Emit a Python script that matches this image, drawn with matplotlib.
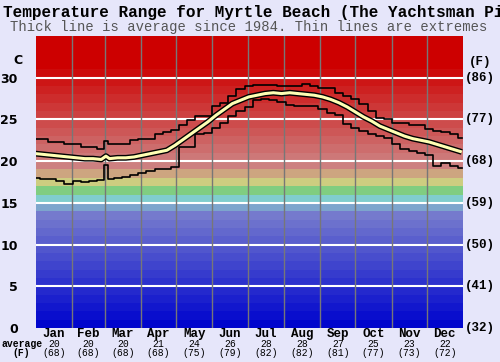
import matplotlib
matplotlib.use("Agg")
import matplotlib.pyplot as plt
import numpy as np

# ---------------- data ----------------
months = ["Jan", "Feb", "Mar", "Apr", "May", "Jun", "Jul", "Aug", "Sep", "Oct", "Nov", "Dec"]
month_days = [31, 28, 31, 30, 31, 30, 31, 31, 30, 31, 30, 31]
avg_c = [20, 20, 20, 21, 24, 26, 28, 28, 27, 25, 23, 22]
avg_f = [68, 68, 68, 68, 75, 79, 82, 82, 81, 77, 73, 72]

days = [0, 7, 14, 21, 28, 35, 42, 49, 56, 60, 63, 70, 77, 84, 91, 98, 105, 112, 119, 126,
        133, 140, 147, 154, 161, 168, 175, 182, 189, 196, 203, 210, 217, 224, 231, 238,
        245, 252, 259, 266, 273, 280, 287, 294, 301, 308, 315, 322, 329, 336, 343, 350,
        357, 364]
avg_line = [20.9, 20.8, 20.7, 20.6, 20.5, 20.4, 20.3, 20.3, 20.2, 20.6, 20.3, 20.4, 20.4,
            20.5, 20.7, 20.9, 21.1, 21.3, 21.9, 22.6, 23.3, 24.0, 24.7, 25.5, 26.2, 26.9,
            27.3, 27.7, 27.9, 28.1, 28.2, 28.1, 28.2, 28.1, 28.0, 27.9, 27.7, 27.4, 27.0,
            26.5, 25.9, 25.3, 24.8, 24.2, 23.8, 23.4, 23.0, 22.7, 22.5, 22.3, 22.0, 21.7,
            21.4, 21.1]
max_line = [22.6, 22.6, 22.3, 22.3, 22.1, 22.1, 21.7, 21.7, 21.5, 22.4, 22.1, 22.1, 22.1,
            22.5, 22.7, 22.7, 23.3, 23.5, 23.7, 24.3, 24.9, 25.4, 25.4, 26.6, 27.0, 27.8,
            28.6, 29.0, 29.1, 29.1, 29.1, 29.0, 29.0, 29.0, 29.2, 29.0, 28.8, 28.8, 28.2,
            27.8, 27.4, 26.9, 26.0, 25.2, 25.0, 24.6, 24.6, 24.3, 24.3, 23.9, 23.6, 23.5,
            23.3, 22.8]
min_line = [18.0, 17.8, 17.8, 17.6, 17.3, 17.6, 17.5, 17.6, 17.7, 19.5, 17.9, 18.0, 18.1,
            18.3, 18.6, 18.8, 19.0, 19.0, 19.3, 21.7, 21.7, 23.2, 23.4, 24.0, 24.6, 25.4,
            26.0, 26.5, 27.3, 27.5, 27.3, 27.1, 26.7, 26.6, 26.6, 26.6, 26.3, 25.8, 25.5,
            24.5, 24.0, 23.6, 23.3, 23.0, 22.8, 22.0, 21.5, 21.2, 21.0, 20.7, 19.4, 19.8,
            19.4, 19.2]
left_ticks = [0, 5, 10, 15, 20, 25, 30]
right_labels = ["(32)", "(41)", "(50)", "(59)", "(68)", "(77)", "(86)"]

# ---------------- figure ----------------
BG = "#e6e6fa"
MONO = "Liberation Mono"
fig = plt.figure(figsize=(5.0, 3.62), dpi=100, facecolor=BG)
ax = fig.add_axes([35.7 / 500, 34 / 362, (463 - 35.7) / 500, (326 - 34) / 362])
ax.set_xlim(0, 365)
ax.set_ylim(0, 35)

# colour bands (1 degree each)
def band_color(i):
    if i <= 13:
        v = i * 9
        return (v / 255, (v + 5) / 255, 205 / 255)
    special = {14: (125, 165, 205), 15: (128, 205, 205), 16: (128, 205, 128),
               17: (205, 205, 128), 18: (205, 165, 128), 19: (205, 128, 128)}
    if i in special:
        return tuple(c / 255 for c in special[i])
    g = max(0.0, 120 * (1 - (i - 20) / 11))
    return (205 / 255, g / 255, g / 255)

for i in range(35):
    ax.axhspan(i, i + 1, color=band_color(i), lw=0, zorder=0)

# grid
for t in left_ticks[1:]:
    ax.axhline(t, color="white", lw=1.5, zorder=1)
bounds = np.cumsum(month_days)[:-1]
for b in bounds:
    ax.axvline(b, color="#777777", lw=1, zorder=1)

# lines
ax.plot(days, max_line, color="black", lw=1.2, drawstyle="steps-mid", zorder=3)
ax.plot(days, min_line, color="black", lw=1.2, drawstyle="steps-mid", zorder=3)
ax.plot(days, avg_line, color="black", lw=4.2, zorder=4, solid_capstyle="butt")
ax.plot(days, avg_line, color="#ffffb4", lw=2.2, zorder=5, solid_capstyle="butt")

for s in ax.spines.values():
    s.set_visible(False)
ax.set_xticks([])
ax.set_yticks(left_ticks)
ax.set_yticklabels([str(t) for t in left_ticks], fontsize=9, fontweight="bold",
                   family="DejaVu Sans")
ax.tick_params(axis="y", length=0, pad=13)

for t, lab in zip(left_ticks, right_labels):
    ax.text(1.004, t, lab, transform=ax.get_yaxis_transform(), ha="left", va="center",
            fontsize=9, fontweight="bold", family=MONO)

# axis unit labels
fig.text(18 / 500, 1 - 61 / 362, "C", ha="center", va="center", fontsize=9,
         fontweight="bold", family="DejaVu Sans")
fig.text(480 / 500, 1 - 62 / 362, "(F)", ha="center", va="center", fontsize=9,
         fontweight="bold", family=MONO)

# month labels
starts = np.concatenate([[0], np.cumsum(month_days)[:-1]])
centers = starts + np.array(month_days) / 2
for c, m, ac, af in zip(centers, months, avg_c, avg_f):
    x = ax.transData.transform((c, 0))[0]
    xf = x / fig.bbox.width
    fig.text(xf, 1 - 334 / 362, m, ha="center", va="center", fontsize=9,
             fontweight="bold", family=MONO)
    fig.text(xf, 1 - 344 / 362, str(ac), ha="center", va="center", fontsize=7, family=MONO)
    fig.text(xf, 1 - 353 / 362, f"({af})", ha="center", va="center", fontsize=7, family=MONO)
fig.text(22 / 500, 1 - 344 / 362, "average", ha="center", va="center", fontsize=7,
         fontweight="bold", family=MONO)
fig.text(21 / 500, 1 - 353 / 362, "(F)", ha="center", va="center", fontsize=7,
         fontweight="bold", family=MONO)

# titles
fig.text(3 / 500, 1 - 12 / 362, "Temperature Range for Myrtle Beach (The Yachtsman Pier)",
         ha="left", va="center", fontsize=11.5, fontweight="bold", family=MONO)
fig.text(249 / 500, 1 - 27 / 362, "Thick line is average since 1984. Thin lines are extremes",
         ha="center", va="center", fontsize=10, color="#555555", family=MONO)

fig.savefig("out.png", dpi=100, facecolor=BG)
